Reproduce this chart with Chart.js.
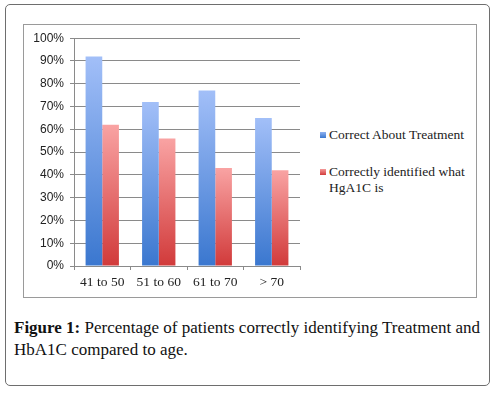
<!DOCTYPE html>
<html>
<head>
<meta charset="utf-8">
<script src="https://cdn.jsdelivr.net/npm/chart.js@4/dist/chart.umd.min.js"></script>
<style>
  html, body { margin: 0; padding: 0; background: #fff; }
  #page { position: relative; width: 495px; height: 393px; }
  #frame {
    position: absolute; left: 5px; top: 4px; width: 485px; height: 382px;
    border: 1px solid #6e6e6e; border-radius: 5px; box-sizing: border-box;
  }
  #box {
    position: absolute; left: 23px; top: 24px; width: 454px; height: 274px;
    border: 1px solid #9a9a9a; box-sizing: border-box;
  }
  #chartWrap { position: absolute; left: 23px; top: 25px; width: 290px; height: 272px; }
  .legend {
    position: absolute; left: 320px; font-family: "Liberation Serif", serif;
    font-size: 13.5px; color: #222; line-height: 16px; width: 155px;
  }
  .legend i {
    position: absolute; left: 0; top: 5px; width: 6px; height: 6px;
  }
  .legend span { display: block; padding-left: 9px; }
  #caption {
    position: absolute; left: 14px; top: 317px; width: 478px;
    font-family: "Liberation Serif", serif; font-size: 17px; line-height: 22px; color: #111;
  }
</style>
</head>
<body>
<div id="page">
  <div id="frame"></div>
  <div id="box"></div>
  <div id="chartWrap"><canvas id="chart" width="290" height="272"></canvas></div>
  <div class="legend" style="top:127px"><i style="background:linear-gradient(#8fb2f0,#3b78d0)"></i><span>Correct About Treatment</span></div>
  <div class="legend" style="top:164px"><i style="background:linear-gradient(#f49a9a,#d33c3c)"></i><span>Correctly identified what HgA1C is</span></div>
  <div id="caption"><b>Figure 1:</b> Percentage of patients correctly identifying Treatment and HbA1C compared to age.</div>
</div>
<script>
  const ageGroups = ['41 to 50', '51 to 60', '61 to 70', '> 70'];
  const treatmentPct = [92, 72, 77, 65];
  const hba1cPct = [62, 56, 43, 42];
  const yTicks = [0, 10, 20, 30, 40, 50, 60, 70, 80, 90, 100];

  // vertical gradient per bar: light at the top, dark at the base
  function barGradient(light, dark) {
    return function (ctx) {
      const chart = ctx.chart;
      const area = chart.chartArea;
      if (!area || ctx.parsed === undefined) return dark;
      const y = chart.scales.y;
      const top = y.getPixelForValue(ctx.parsed.y);
      const base = y.getPixelForValue(0);
      const g = chart.ctx.createLinearGradient(0, top, 0, base);
      g.addColorStop(0, light);
      g.addColorStop(1, dark);
      return g;
    };
  }

  new Chart(document.getElementById('chart').getContext('2d'), {
    type: 'bar',
    data: {
      labels: ageGroups,
      datasets: [
        { label: 'Correct About Treatment', data: treatmentPct, backgroundColor: barGradient('#a2bff8', '#3a77cf') },
        { label: 'Correctly identified what HgA1C is', data: hba1cPct, backgroundColor: barGradient('#f9a3a3', '#d13a3a') }
      ]
    },
    options: {
      responsive: false,
      animation: false,
      maintainAspectRatio: false,
      layout: { padding: { top: 13, right: 13, left: 0, bottom: 0 } },
      datasets: { bar: { categoryPercentage: 0.59, barPercentage: 1.0 } },
      plugins: { legend: { display: false }, tooltip: { enabled: false } },
      scales: {
        x: {
          afterFit: s => { s.height = 31; },
          grid: { display: true, drawOnChartArea: false, offset: true, color: '#8a8a8a', tickLength: 4 },
          border: { color: '#8a8a8a' },
          ticks: { color: '#222', padding: 4, font: { family: 'Liberation Serif', size: 13.5 } }
        },
        y: {
          min: 0, max: 100,
          afterFit: s => { s.width = 51; },
          afterBuildTicks: s => { s.ticks = yTicks.map(v => ({ value: v })); },
          grid: { color: '#8a8a8a', tickLength: 4 },
          border: { color: '#8a8a8a' },
          ticks: { color: '#222', padding: 6, font: { family: 'Liberation Sans', size: 12 }, callback: v => v + '%' }
        }
      }
    }
  });
</script>
</body>
</html>
